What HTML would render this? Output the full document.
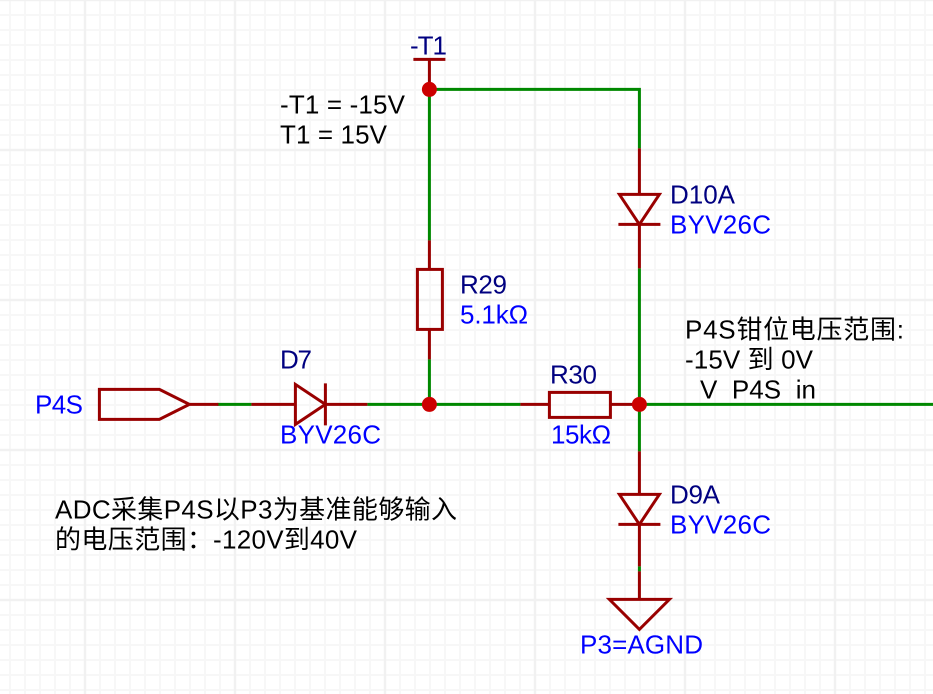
<!DOCTYPE html>
<html><head><meta charset="utf-8"><style>
html,body{margin:0;padding:0;background:#fff;width:933px;height:694px;overflow:hidden}
svg{display:block}
text{font-family:"Liberation Sans","Noto Sans CJK SC",sans-serif;font-size:26px;white-space:pre}
.r{fill:#000080}.v{fill:#0000ff}.k{fill:#000}
.w{stroke:#008800;stroke-width:3;fill:none}
.s{stroke:#990000;stroke-width:3;fill:none}
</style></head><body>
<svg width="933" height="694" viewBox="0 0 933 694" xmlns="http://www.w3.org/2000/svg">
<defs>
<pattern id="g" x="10" y="0" width="15" height="15" patternUnits="userSpaceOnUse"><path d="M0 0V15M15 0V15M0 0H15M0 15H15" stroke="#f7f7f7" stroke-width="2" fill="none"/></pattern>
<pattern id="G" x="85" y="0" width="150" height="150" patternUnits="userSpaceOnUse"><path d="M0 0V150M150 0V150M0 0H150M0 150H150" stroke="#f1f1f1" stroke-width="2.5" fill="none"/></pattern>
</defs>
<rect width="933" height="694" fill="#fff"/>
<rect width="933" height="694" fill="url(#g)"/>
<rect width="933" height="694" fill="url(#G)"/>
<g transform="translate(.4 .4)">
<path class="w" d="M429 89V240M429 359V404M429 89H639V148M639 268V451M217 404H251M367 404H520M639 404H933"/>
<path class="w" d="M639 566V571"/>
<path class="s" d="M413 59H445M429 59V89"/>
<path class="s" d="M429 240V269M429 329V359"/><rect class="s" x="417" y="269" width="25" height="60"/>
<path class="s" d="M639 148V194M639 224V268M619 194H659L639 224ZM618 224H660"/>
<path class="s" d="M639 451V494M639 524V566M639 571V599M619 494H659L639 524ZM618 524H660"/>
<path class="s" d="M609 599H669L639 629Z"/>
<path class="s" d="M520 404H549M610 404H639"/><rect class="s" x="549" y="392" width="61" height="25"/>
<path class="s" d="M251 404H295M325 404H367M295 384V424L325 404ZM325 383V425"/>
<path class="s" d="M99 389H159L189 404L159 419H99ZM189 404H218"/>
<circle cx="429" cy="89" r="7.5" fill="#cc0000"/>
<circle cx="429" cy="404" r="7.5" fill="#cc0000"/>
<circle cx="639" cy="404" r="7.5" fill="#cc0000"/>
</g>
<g transform="translate(0 .6)">
<text class="r" x="410" y="54" textLength="37">-T1</text>
<text class="k" x="280" y="113" textLength="125">-T1 = -15V</text>
<text class="k" x="280" y="143" textLength="107">T1 = 15V</text>
<text class="r" x="670" y="203" textLength="65">D10A</text>
<text class="v" x="670" y="233" textLength="101">BYV26C</text>
<text class="r" x="460" y="293" textLength="47">R29</text>
<text class="v" x="460" y="323" textLength="68">5.1kΩ</text>
<text class="k" x="685" y="338" textLength="219">P4S钳位电压范围:</text>
<text class="k" x="685" y="368" textLength="128">-15V 到 0V</text>
<text class="k" x="700" y="398" textLength="116">V  P4S  in</text>
<text class="r" x="550" y="383" textLength="47">R30</text>
<text class="v" x="551" y="443" textLength="60">15kΩ</text>
<text class="v" x="35" y="413" textLength="48">P4S</text>
<text class="r" x="280" y="368" textLength="32">D7</text>
<text class="v" x="280" y="443" textLength="101">BYV26C</text>
<text class="k" x="55" y="518" textLength="402">ADC采集P4S以P3为基准能够输入</text>
<text class="k" x="55" y="548" textLength="158">的电压范围：</text>
<text class="k" x="213" y="548" textLength="144">-120V到40V</text>
<text class="r" x="670" y="503" textLength="50">D9A</text>
<text class="v" x="670" y="533" textLength="101">BYV26C</text>
<text class="v" x="580" y="653" textLength="123">P3=AGND</text>
</g>
</svg>
</body></html>
